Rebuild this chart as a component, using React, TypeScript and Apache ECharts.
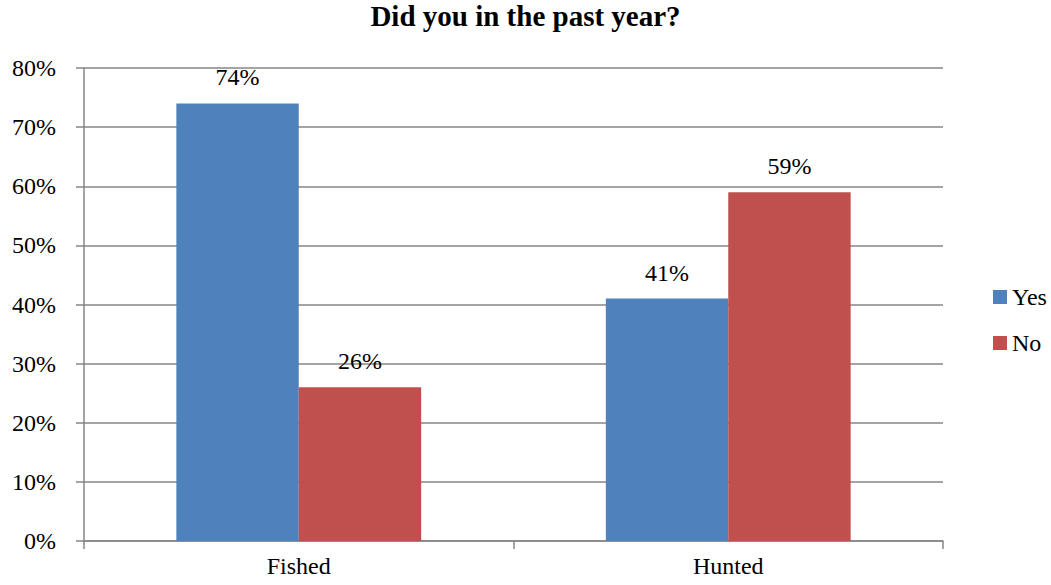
import React, { useEffect, useRef } from "react";
import * as echarts from "echarts";

const categories = ["Fished", "Hunted"];
const yesValues = [74, 41];
const noValues = [26, 59];
const seriesNames = ["Yes", "No"];
const titleText = "Did you in the past year?";

export default function App() {
  const ref = useRef<HTMLDivElement>(null);
  useEffect(() => {
    if (!ref.current) return;
    const chart = echarts.init(ref.current, null, { renderer: "svg" });
    const font = "Liberation Serif, Times New Roman, serif";
    const label = {
      show: true,
      position: "top",
      distance: 14,
      formatter: (p: any) => p.value + "%",
      color: "#000",
      fontFamily: font,
      fontSize: 24,
    };
    chart.setOption({
      animation: false,
      textStyle: { fontFamily: font },
      title: {
        text: titleText,
        left: "center",
        top: -4,
        textStyle: { fontFamily: font, fontSize: 29, fontWeight: "bold", color: "#000" },
      },
      legend: {
        orient: "vertical",
        left: 988,
        top: 280,
        itemWidth: 14,
        itemHeight: 14,
        itemGap: 22,
        icon: "rect",
        textStyle: { fontFamily: font, fontSize: 24, color: "#000" },
        data: seriesNames,
      },
      grid: { left: 84, right: 108, top: 68, bottom: 44, containLabel: false },
      xAxis: {
        type: "category",
        data: categories,
        axisLine: { show: true, lineStyle: { color: "#868686", width: 1.5 } },
        axisTick: { show: true, length: 8, alignWithLabel: false, lineStyle: { color: "#868686", width: 1.5 } },
        axisLabel: { color: "#000", fontFamily: font, fontSize: 24, margin: 13 },
      },
      yAxis: {
        type: "value",
        min: 0,
        max: 80,
        interval: 10,
        axisLine: { show: true, lineStyle: { color: "#868686", width: 1.5 } },
        axisTick: { show: true, length: 8, lineStyle: { color: "#868686", width: 1.5 } },
        splitLine: { show: true, lineStyle: { color: "#868686", width: 1.5 } },
        axisLabel: {
          color: "#000",
          fontFamily: font,
          fontSize: 24,
          margin: 28,
          formatter: (v: number) => v + "%",
        },
      },
      series: [
        {
          name: seriesNames[0],
          type: "bar",
          data: yesValues,
          barWidth: "28.5%",
          barGap: "0%",
          itemStyle: { color: "#4F81BD" },
          label,
        },
        {
          name: seriesNames[1],
          type: "bar",
          data: noValues,
          barWidth: "28.5%",
          itemStyle: { color: "#C0504D" },
          label,
        },
      ],
    });
    return () => chart.dispose();
  }, []);
  return <div ref={ref} style={{ width: 1051, height: 585, position: "absolute", left: 0, top: 0 }} />;
}
